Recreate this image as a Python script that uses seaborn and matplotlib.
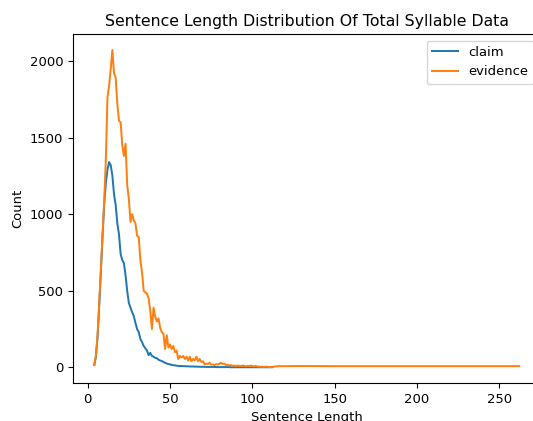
import numpy as np
import pandas as pd
import matplotlib
matplotlib.use('Agg')
import matplotlib.pyplot as plt
import seaborn as sns

# sentence length -> count
claim_len = list(range(4, 113))
claim_cnt = [15, 70, 200, 400, 620, 850, 1060, 1200, 1290, 1340,
             1320, 1250, 1130, 1060, 940, 870, 740, 700, 680, 600,
             500, 420, 390, 360, 335, 290, 250, 230, 185, 165,
             140, 125, 110, 80, 95, 75, 70, 62, 60, 50,
             45, 42, 35, 30, 25, 22, 20, 16, 14, 13,
             11, 10, 9, 9, 8, 8, 7, 7, 6, 6,
             6, 5, 5, 5, 4, 4, 4, 4, 3, 3,
             3, 3, 3, 3, 2, 2, 2, 2, 2, 2,
             2, 2, 2, 1, 1, 1, 1, 1, 1, 1,
             1, 1, 1, 1, 1, 1, 1, 1, 1, 1,
             1, 1, 1, 1, 1, 1, 1, 1, 1]

evid_len = list(range(4, 113)) + [114, 116, 120, 130, 150, 180, 210, 240, 262]
evid_cnt = [15, 80, 210, 420, 640, 860, 1080, 1350, 1760, 1840,
            1950, 2072, 1920, 1890, 1720, 1610, 1600, 1450, 1380, 1460,
            1190, 1100, 950, 1000, 960, 940, 860, 850, 700, 620,
            500, 490, 480, 450, 370, 250, 390, 330, 300, 320,
            260, 230, 220, 120, 210, 130, 150, 120, 140, 100,
            110, 55, 75, 65, 75, 55, 70, 45, 70, 40,
            55, 45, 70, 40, 55, 35, 40, 20, 25, 22,
            30, 18, 20, 15, 22, 18, 25, 30, 22, 25,
            15, 18, 12, 15, 10, 12, 8, 12, 10, 8,
            12, 10, 6, 10, 8, 12, 8, 6, 10, 5,
            6, 4, 5, 3, 5, 4, 3, 2, 3,
            6, 8, 8, 9, 8, 8, 8, 8, 8]

claim_df = pd.DataFrame({'length': claim_len, 'count': claim_cnt})
evid_df = pd.DataFrame({'length': evid_len, 'count': evid_cnt})

plt.rcParams['font.size'] = 9.45
plt.rcParams['lines.linewidth'] = 1.42

fig = plt.figure(figsize=(5.33, 4.21), dpi=100)
ax = fig.add_axes([0.137, 0.09, 0.877, 0.829])

sns.lineplot(data=claim_df, x='length', y='count', label='claim', ax=ax)
sns.lineplot(data=evid_df, x='length', y='count', label='evidence', ax=ax)

ax.set_title('Sentence Length Distribution Of Total Syllable Data')
ax.set_xlabel('Sentence Length')
ax.set_ylabel('Count')
ax.legend(loc='upper right')

fig.savefig('out.png', dpi=100)
